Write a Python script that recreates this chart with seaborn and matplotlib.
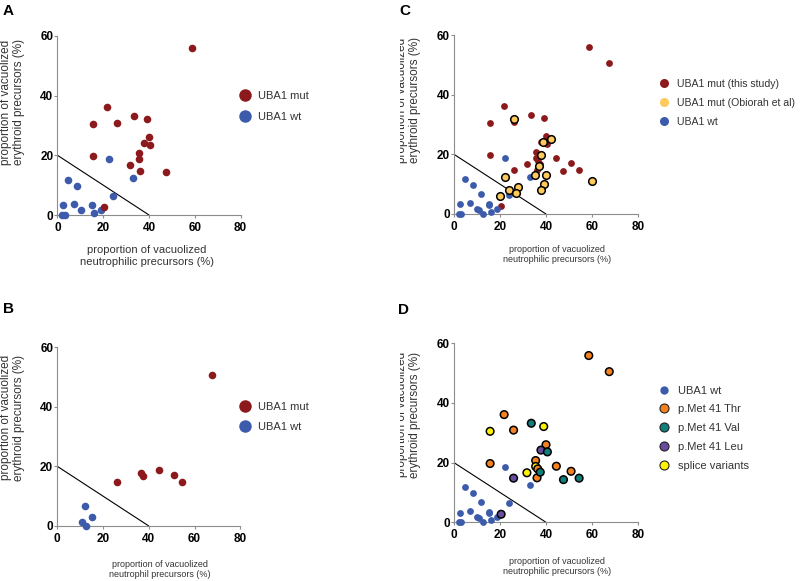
import pandas as pd
import matplotlib
matplotlib.use("Agg")
import matplotlib.pyplot as plt
from matplotlib.lines import Line2D
from matplotlib.transforms import Bbox, TransformedBbox
import seaborn as sns

# --- data ---------------------------------------------------------------
# panel A cohort, UBA1 mutated (this study) + variant per patient
a_mut_x = [58.6, 21.8, 25.9, 15.7, 33.6, 39.0, 40.0, 37.8, 40.6, 35.5, 35.5, 31.7, 36.1, 47.6, 15.7, 20.5]
a_mut_y = [55.9, 36.1, 30.9, 30.5, 33.2, 32.1, 26.0, 24.2, 23.6, 20.7, 18.7, 16.6, 14.9, 14.3, 19.7, 2.7]
a_mut_var = ['Thr', 'Thr', 'Thr', 'splice', 'Val', 'splice', 'Thr', 'Leu',
             'Val', 'Thr', 'splice', 'splice', 'Thr', 'Val', 'Thr', 'Leu']
# panel A cohort, UBA1 wild type
a_wt_x = [22.3, 32.9, 4.8, 8.4, 24.1, 2.6, 7.0, 15.1, 10.2, 16.0, 18.9, 2.0, 3.1]
a_wt_y = [18.7, 12.4, 11.7, 9.8, 6.5, 3.2, 3.7, 3.4, 1.7, 0.8, 1.7, 0.0, 0.0]

# panel B cohort
b_mut_x = [67.5, 25.9, 36.4, 37.5, 44.5, 50.9, 54.4]
b_mut_y = [50.5, 14.8, 17.9, 16.8, 18.8, 17.1, 14.8]
b_mut_var = ['Thr', 'Leu', 'Thr', 'Val', 'Thr', 'Thr', 'Val']
b_wt_x = [11.9, 15.0, 10.8, 12.4]
b_wt_y = [6.7, 3.0, 1.5, 0.0]

# Obiorah et al (panel C only)
ob_x = [26.2, 38.8, 42.0, 38.0, 37.1, 35.1, 40.0, 22.2, 39.1, 38.0, 59.9, 28.0, 24.1, 27.1, 20.0]
ob_y = [32.0, 24.0, 25.1, 19.9, 16.1, 13.1, 13.1, 12.5, 10.1, 7.9, 11.1, 8.9, 8.0, 6.9, 6.0]

# diagnostic cut-off line
cutoff_x = [0, 40]
cutoff_y = [20, 0]

x_ticks = [0, 20, 40, 60, 80]
y_ticks = [0, 20, 40, 60]

variant_names = {'Thr': 'p.Met 41 Thr', 'Val': 'p.Met 41 Val',
                 'Leu': 'p.Met 41 Leu', 'splice': 'splice variants'}

# --- colours -------------------------------------------------------------
RED = '#8c1a1c'
BLUE = '#3d5bab'
LIGHT_YELLOW = '#ffc95c'
var_colors = {'p.Met 41 Thr': '#f5821f', 'p.Met 41 Val': '#0f7f7b',
              'p.Met 41 Leu': '#6a4c9e', 'splice variants': '#fff200'}
SPINE = '#8c8c8c'
LABEL = '#333333'

sns.set_style('ticks')
plt.rcParams['font.family'] = ['Liberation Sans', 'DejaVu Sans']

fig = plt.figure(figsize=(8, 5.81), dpi=100)
W, H = 800, 581


def make_ax(x0, y0, w=183, h=179):
    # x0,y0 = pixel position of the data origin (0,0)
    return fig.add_axes([x0 / W, 1 - y0 / H, w / W, h / H])


ax_a = make_ax(57.5, 215)
ax_c = make_ax(454, 214, w=184)
ax_b = make_ax(57.3, 526)
ax_d = make_ax(454, 522.3, w=184)

ylab = 'proportion of vacuolized\nerythroid precursors (%)'


def style_axis(ax, xlabel, xsize, xpos, ypos, clip_left=None):
    ax.set_xlim(0, 80)
    ax.set_ylim(0, 60)
    ax.set_xticks(x_ticks)
    ax.set_yticks(y_ticks)
    sns.despine(ax=ax)
    for sp in ['left', 'bottom']:
        ax.spines[sp].set_color(SPINE)
        ax.spines[sp].set_linewidth(0.8)
    ax.tick_params(direction='out', length=2, width=0.8, color=SPINE,
                   labelsize=8.5, labelcolor='black')
    ax.tick_params(axis='x', pad=3)
    ax.tick_params(axis='y', pad=1)
    for lab in ax.get_xticklabels() + ax.get_yticklabels():
        lab.set_fontweight('bold')
    ax.set_xlabel(xlabel, fontsize=xsize, color=LABEL, linespacing=1.15)
    ax.xaxis.set_label_coords(*xpos)
    ax.set_ylabel(ylab, fontsize=8.5, color=LABEL, linespacing=1.15)
    ax.yaxis.set_label_coords(*ypos)
    if clip_left is not None:
        # in the source figure the left edge of this label is cut off
        bb = TransformedBbox(Bbox.from_extents(clip_left / W, 0, 1, 1), fig.transFigure)
        ax.yaxis.label.set_clip_box(bb)
        ax.yaxis.label.set_clip_on(True)
    sns.lineplot(x=cutoff_x, y=cutoff_y, ax=ax, color='black', linewidth=0.8, zorder=1)
    for coll in ax.collections:
        coll.set_clip_on(False)


def dot(color, ms, edge=None):
    return Line2D([], [], linestyle='', marker='o', markersize=ms,
                  markerfacecolor=color,
                  markeredgecolor=edge if edge else color,
                  markeredgewidth=0.8 if edge else 0)


def put_legend(ax, handles, labels, left_px, top_px, spacing, pad, size=8):
    leg = ax.legend(handles, labels, loc='upper left',
                    bbox_to_anchor=(left_px / W, 1 - top_px / H),
                    bbox_transform=fig.transFigure, frameon=False,
                    fontsize=size, handlelength=1.0, handletextpad=pad,
                    labelspacing=spacing, borderpad=0, borderaxespad=0)
    for t in leg.get_texts():
        t.set_color(LABEL)
    return leg


# --- panel A --------------------------------------------------------------
df_a = pd.DataFrame({'x': a_mut_x + a_wt_x, 'y': a_mut_y + a_wt_y,
                     'group': ['UBA1 mut'] * len(a_mut_x) + ['UBA1 wt'] * len(a_wt_x)})
sns.scatterplot(data=df_a[df_a.group == 'UBA1 wt'], x='x', y='y', ax=ax_a,
                color=BLUE, s=30, linewidth=0, legend=False, zorder=3)
sns.scatterplot(data=df_a[df_a.group == 'UBA1 mut'], x='x', y='y', ax=ax_a,
                color=RED, s=30, linewidth=0, legend=False, zorder=3)
style_axis(ax_a, 'proportion of vacuolized\nneutrophilic precursors (%)', 8,
           (0.487, -0.17), (-0.175, 0.63))
put_legend(ax_a, [dot(RED, 9), dot(BLUE, 9)], ['UBA1 mut', 'UBA1 wt'],
           239.5, 91, 0.95, 0.65)

# --- panel B --------------------------------------------------------------
df_b = pd.DataFrame({'x': b_mut_x + b_wt_x, 'y': b_mut_y + b_wt_y,
                     'group': ['UBA1 mut'] * len(b_mut_x) + ['UBA1 wt'] * len(b_wt_x)})
sns.scatterplot(data=df_b[df_b.group == 'UBA1 wt'], x='x', y='y', ax=ax_b,
                color=BLUE, s=30, linewidth=0, legend=False, zorder=3)
sns.scatterplot(data=df_b[df_b.group == 'UBA1 mut'], x='x', y='y', ax=ax_b,
                color=RED, s=30, linewidth=0, legend=False, zorder=3)
style_axis(ax_b, 'proportion of vacuolized\nneutrophil precursors (%)', 6.5,
           (0.561, -0.19), (-0.175, 0.606))
put_legend(ax_b, [dot(RED, 9), dot(BLUE, 9)], ['UBA1 mut', 'UBA1 wt'],
           239.5, 401.5, 0.9, 0.65)

# --- panel C --------------------------------------------------------------
all_mut_x = a_mut_x + b_mut_x
all_mut_y = a_mut_y + b_mut_y
all_wt_x = a_wt_x + b_wt_x
all_wt_y = a_wt_y + b_wt_y
sns.scatterplot(x=all_mut_x, y=all_mut_y, ax=ax_c, color=RED, s=24,
                linewidth=0, legend=False, zorder=3)
sns.scatterplot(x=all_wt_x, y=all_wt_y, ax=ax_c, color=BLUE, s=24,
                linewidth=0, legend=False, zorder=3)
sns.scatterplot(x=ob_x, y=ob_y, ax=ax_c, color=LIGHT_YELLOW, s=30,
                edgecolor='black', linewidth=1.1, legend=False, zorder=4)
style_axis(ax_c, 'proportion of vacuolized\nneutrophilic precursors (%)', 6.5,
           (0.558, -0.173), (-0.18, 0.637), clip_left=400)
put_legend(ax_c, [dot(RED, 6.5), dot(LIGHT_YELLOW, 6.5), dot(BLUE, 6.5)],
           ['UBA1 mut (this study)', 'UBA1 mut (Obiorah et al)', 'UBA1 wt'],
           658.5, 79, 0.85, 0.72, size=7.6)

# --- panel D --------------------------------------------------------------
df_d = pd.DataFrame({'x': all_mut_x, 'y': all_mut_y,
                     'variant': [variant_names[v] for v in a_mut_var + b_mut_var]})
sns.scatterplot(x=all_wt_x, y=all_wt_y, ax=ax_d, color=BLUE, s=24,
                linewidth=0, legend=False, zorder=3)
sns.scatterplot(data=df_d, x='x', y='y', hue='variant', palette=var_colors, ax=ax_d,
                s=30, edgecolor='black', linewidth=1.1, legend=False, zorder=4)
style_axis(ax_d, 'proportion of vacuolized\nneutrophilic precursors (%)', 6.5,
           (0.56, -0.192), (-0.18, 0.602), clip_left=400)
d_labels = ['UBA1 wt'] + list(var_colors.keys())
d_handles = [dot(BLUE, 6)] + [dot(var_colors[k], 6.5, edge='#222222') for k in var_colors]
put_legend(ax_d, d_handles, d_labels, 658.5, 385.5, 0.8, 0.75)

# --- panel letters --------------------------------------------------------
for letter, px, py in [('A', 3, 4), ('B', 3, 302), ('C', 399, 4), ('D', 398, 303)]:
    fig.text(px / W, 1 - py / H, letter, fontsize=11, fontweight='bold',
             va='top', ha='left', color='black')

fig.savefig('out.png', dpi=100)
